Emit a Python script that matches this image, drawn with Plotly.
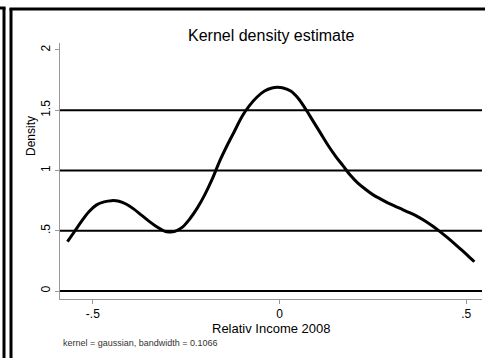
import plotly.graph_objects as go

# Data
income = [-0.568, -0.55, -0.53, -0.51, -0.49, -0.47, -0.45, -0.43, -0.41, -0.39,
          -0.37, -0.35, -0.33, -0.31, -0.295, -0.28, -0.26, -0.24, -0.22, -0.20,
          -0.18, -0.16, -0.14, -0.12, -0.10, -0.08, -0.06, -0.04, -0.02, -0.005,
          0.01, 0.03, 0.05, 0.07, 0.09, 0.11, 0.13, 0.15, 0.17, 0.19,
          0.21, 0.23, 0.25, 0.27, 0.29, 0.31, 0.33, 0.35, 0.37, 0.39,
          0.41, 0.43, 0.45, 0.47, 0.49, 0.51, 0.522]
density = [0.41, 0.49, 0.58, 0.66, 0.715, 0.74, 0.75, 0.745, 0.72, 0.68,
           0.63, 0.58, 0.535, 0.50, 0.49, 0.495, 0.53, 0.60, 0.69, 0.80,
           0.93, 1.08, 1.21, 1.33, 1.45, 1.54, 1.61, 1.66, 1.685, 1.69,
           1.685, 1.66, 1.60, 1.51, 1.41, 1.31, 1.21, 1.12, 1.04, 0.96,
           0.895, 0.845, 0.80, 0.765, 0.732, 0.703, 0.676, 0.648, 0.618, 0.582,
           0.54, 0.493, 0.443, 0.39, 0.335, 0.278, 0.243]

x_tickvals = [-0.5, 0, 0.5]
x_ticktext = ["-.5", "0", ".5"]
y_tickvals = [0, 0.5, 1, 1.5, 2]
y_ticktext = ["0", ".5", "1", "1.5", "2"]
grid_values = [0, 0.5, 1, 1.5]

title_text = "Kernel density estimate"
x_title = "Relativ Income 2008"
y_title = "Density"
note_text = "kernel = gaussian, bandwidth = 0.1066"

FONT = "Liberation Sans, Arial, sans-serif"

fig = go.Figure()
fig.add_trace(go.Scatter(
    x=income, y=density, mode="lines",
    line=dict(color="black", width=3, shape="spline", smoothing=1.0),
    hoverinfo="skip", showlegend=False,
))

shapes = []
for g in grid_values:
    shapes.append(dict(type="line", xref="paper", yref="y", x0=0, x1=1, y0=g, y1=g,
                       line=dict(color="black", width=2), layer="below"))

# outer frames (paper coords: px = 60 + 422*x ; py = 299 - 256*y)
def px2x(px):
    return (px - 60) / 422.0

def py2y(py):
    return (299 - py) / 256.0

shapes.append(dict(type="line", xref="paper", yref="paper",
                   x0=px2x(4), x1=px2x(4), y0=py2y(7.5), y1=py2y(370),
                   line=dict(color="black", width=3)))
shapes.append(dict(type="line", xref="paper", yref="paper",
                   x0=px2x(-5), x1=px2x(5.5), y0=py2y(8), y1=py2y(8),
                   line=dict(color="black", width=3)))
shapes.append(dict(type="line", xref="paper", yref="paper",
                   x0=px2x(11), x1=px2x(11), y0=py2y(8.5), y1=py2y(370),
                   line=dict(color="black", width=3)))
shapes.append(dict(type="line", xref="paper", yref="paper",
                   x0=px2x(9.5), x1=px2x(500), y0=py2y(9), y1=py2y(9),
                   line=dict(color="black", width=3)))

annotations = [
    dict(text=title_text, xref="paper", yref="paper", x=px2x(271), y=py2y(35),
         showarrow=False, font=dict(family=FONT, size=16, color="black"),
         xanchor="center", yanchor="middle"),
    dict(text=y_title, xref="paper", yref="paper", x=px2x(31), y=py2y(136),
         showarrow=False, textangle=-90, font=dict(family=FONT, size=12, color="black"),
         xanchor="center", yanchor="middle"),
    dict(text=x_title, xref="paper", yref="paper", x=px2x(271), y=py2y(328),
         showarrow=False, font=dict(family=FONT, size=13, color="black"),
         xanchor="center", yanchor="middle"),
    dict(text=note_text, xref="paper", yref="paper", x=px2x(61), y=py2y(343),
         showarrow=False, font=dict(family=FONT, size=9, color="#333333"),
         xanchor="left", yanchor="middle"),
]

fig.update_layout(
    width=485, height=358,
    margin=dict(l=60, r=3, t=43, b=59),
    paper_bgcolor="white", plot_bgcolor="white",
    shapes=shapes, annotations=annotations,
    xaxis=dict(range=[-0.588, 0.5425], tickvals=x_tickvals, ticktext=x_ticktext,
               showgrid=False, zeroline=False, showline=True, linecolor="#999999",
               linewidth=1, ticks="outside", ticklen=4, tickcolor="#999999",
               tickfont=dict(family=FONT, size=12, color="black")),
    yaxis=dict(range=[-0.066, 2.058], tickvals=y_tickvals, ticktext=y_ticktext,
               showgrid=False, zeroline=False, showline=True, linecolor="#999999",
               linewidth=1, ticks="outside", ticklen=4, tickcolor="#999999",
               tickangle=-90,
               tickfont=dict(family=FONT, size=12, color="black")),
)

fig.write_html("out.html")
